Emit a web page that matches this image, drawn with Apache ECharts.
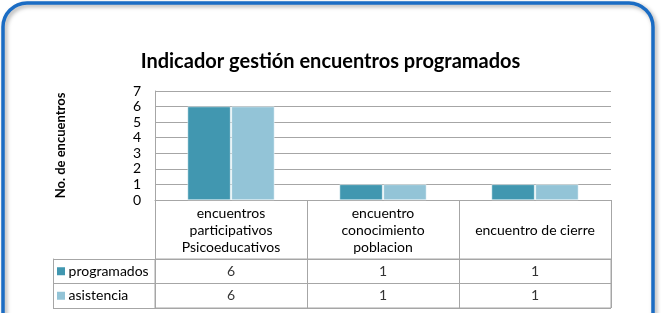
<!DOCTYPE html>
<html>
<head>
<meta charset="utf-8">
<script src="https://cdn.jsdelivr.net/npm/echarts@6/dist/echarts.min.js"></script>
<style>
html, body {margin: 0; padding: 0; background: #fff;}
#main {width: 661px; height: 313px;}
</style>
</head>
<body>
<div id="main"></div>
<script>
// datos del grafico
var categories = ['encuentros\nparticipativos\nPsicoeducativos', 'encuentro\nconocimiento\npoblacion', 'encuentro de cierre'];
var seriesNames = ['programados', 'asistencia'];
var programados = [6, 1, 1];
var asistencia = [6, 1, 1];
var yMin = 0, yMax = 7, yStep = 1;

var colors = ['#4197b0', '#93c4d7'];
var lineGray = '#a6a6a6';
var font = 'Lato';

// celdas de la tabla de datos: [columna, fila, valor]
var tableCells = [];
[programados, asistencia].forEach(function (vals, r) {
    vals.forEach(function (v, i) {
        tableCells.push([i, r, v]);
    });
});

var myChart = echarts.init(document.getElementById('main'));

var option = {
    animation: false,
    textStyle: {fontFamily: font},
    title: {
        text: 'Indicador gestión encuentros programados',
        left: 'center',
        top: 47,
        textStyle: {fontFamily: font, fontSize: 20, fontWeight: 'bold', color: '#000'}
    },
    graphic: [{
        type: 'rect',
        shape: {x: 3, y: 3, width: 650, height: 340, r: 24},
        style: {
            fill: 'none', stroke: '#1a6cc4', lineWidth: 3.5,
            shadowBlur: 4, shadowColor: 'rgba(0,0,0,0.35)', shadowOffsetX: 2, shadowOffsetY: 2
        },
        silent: true
    }],
    grid: [
        {left: 155, right: 50, top: 91, height: 109},
        {left: 155, right: 50, top: 259, height: 49, show: true, borderColor: lineGray, borderWidth: 1}
    ],
    xAxis: [
        {
            type: 'category',
            gridIndex: 0,
            data: categories,
            axisLine: {lineStyle: {color: lineGray}},
            axisTick: {show: true, length: 59, lineStyle: {color: lineGray}},
            axisLabel: {
                margin: 30, verticalAlign: 'middle', lineHeight: 17,
                fontSize: 14, color: '#000', interval: 0
            }
        },
        {
            type: 'category',
            gridIndex: 1,
            data: categories,
            axisLine: {show: false},
            axisTick: {show: false},
            axisLabel: {show: false},
            splitLine: {show: true, lineStyle: {color: lineGray}}
        }
    ],
    yAxis: [
        {
            type: 'value',
            gridIndex: 0,
            min: yMin, max: yMax, interval: yStep,
            name: 'No. de encuentros',
            nameLocation: 'middle',
            nameGap: 88,
            nameTextStyle: {fontSize: 13, fontWeight: 'bold', color: '#000', fontFamily: font},
            axisLine: {show: true, lineStyle: {color: lineGray}},
            axisTick: {show: false},
            axisLabel: {fontSize: 14, color: '#000', margin: 14},
            splitLine: {lineStyle: {color: lineGray}}
        },
        {
            type: 'category',
            gridIndex: 1,
            data: seriesNames,
            inverse: true,
            axisLine: {show: false},
            axisTick: {show: true, length: 102, lineStyle: {color: lineGray}},
            axisLabel: {
                align: 'left', margin: 98, fontSize: 14, color: '#000',
                formatter: function (v, i) { return '{m' + i + '|} ' + v; },
                rich: {
                    m0: {width: 8, height: 8, backgroundColor: colors[0]},
                    m1: {width: 8, height: 8, backgroundColor: colors[1]}
                }
            },
            splitLine: {show: true, lineStyle: {color: lineGray}}
        },
        {
            // borde izquierdo de la columna de leyenda
            type: 'category',
            gridIndex: 1,
            data: seriesNames,
            position: 'left',
            offset: 102,
            axisLine: {show: true, lineStyle: {color: lineGray}},
            axisTick: {show: false},
            axisLabel: {show: false}
        }
    ],
    series: [
        {
            name: seriesNames[0],
            type: 'bar',
            xAxisIndex: 0, yAxisIndex: 0,
            data: programados,
            barWidth: 43,
            barGap: '2%',
            itemStyle: {color: colors[0], borderColor: '#fff', borderWidth: 0.5}
        },
        {
            name: seriesNames[1],
            type: 'bar',
            xAxisIndex: 0, yAxisIndex: 0,
            data: asistencia,
            barWidth: 43,
            barGap: '2%',
            itemStyle: {color: colors[1], borderColor: '#fff', borderWidth: 0.5}
        },
        {
            type: 'scatter',
            xAxisIndex: 1, yAxisIndex: 1,
            data: tableCells,
            symbolSize: 0,
            silent: true,
            label: {
                show: true, position: 'inside', fontSize: 14, color: '#000',
                formatter: function (p) { return p.value[2]; }
            }
        }
    ]
};

myChart.setOption(option);
</script>
</body>
</html>
